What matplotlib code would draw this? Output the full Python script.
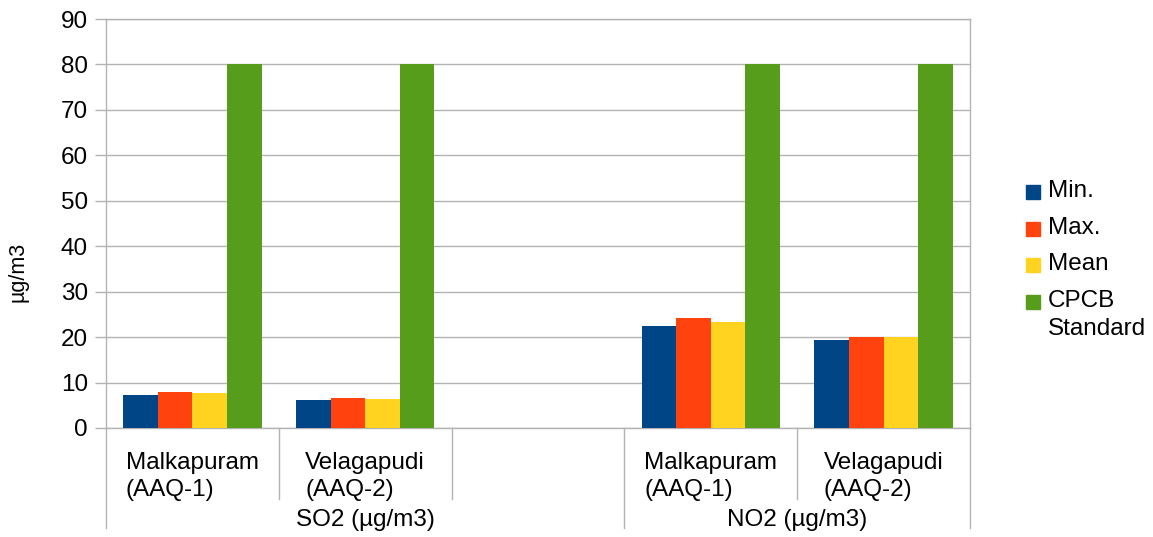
import numpy as np
import matplotlib
matplotlib.use('Agg')
import matplotlib.pyplot as plt
from matplotlib.patches import Rectangle

plt.rcParams['font.family'] = ['Liberation Sans', 'DejaVu Sans']

# データ
categories = ['Malkapuram\n(AAQ-1)', 'Velagapudi\n(AAQ-2)', '', 'Malkapuram\n(AAQ-1)', 'Velagapudi\n(AAQ-2)']
groups = ['SO2 (µg/m3)', 'NO2 (µg/m3)']
group_span = [(0, 2), (3, 4)]
series = ['Min.', 'Max.', 'Mean', 'CPCB\nStandard']
v_min = [7.2, 6.1, np.nan, 22.5, 19.4]
v_max = [7.9, 6.6, np.nan, 24.2, 20.1]
v_mean = [7.7, 6.35, np.nan, 23.4, 20.0]
v_cpcb = [80, 80, np.nan, 80, 80]
colors = ['#004586', '#ff420e', '#ffd320', '#579d1c']

values = [v_min, v_max, v_mean, v_cpcb]
grid_c = '#b3b3b3'
fs = 17.5

fig = plt.figure(figsize=(11.53, 5.37), dpi=100)
ax = fig.add_axes([106/1153, 1-428/537, (970-106)/1153, (428-19)/537])

x = np.arange(len(categories))
w = 0.2
for i, vals in enumerate(values):
    ax.bar(x + (i - 1.5)*w, vals, w, color=colors[i], zorder=3)

ax.set_xlim(-0.5, len(categories) - 0.5)
ax.set_ylim(0, 90)
ax.set_yticks(range(0, 91, 10))
ax.yaxis.grid(True, color=grid_c, lw=1.0, zorder=0)
for s in ax.spines.values():
    s.set_color(grid_c)
    s.set_linewidth(1.0)
ax.tick_params(axis='y', length=8, color=grid_c, width=1.0, pad=5, labelsize=fs)
ax.tick_params(axis='x', length=0, pad=35, labelsize=fs)
ax.set_xticks(x, categories, linespacing=1.28)
for t in ax.get_xticklabels():
    t.set_multialignment('left')
    t.set_va('center')

# カテゴリ区切り線
tr = ax.get_xaxis_transform()
h = 428 - 19
short_y = -(499 - 428)/h
long_y = -(528 - 428)/h
for xb in np.arange(-0.5, len(categories), 1.0):
    is_long = any(np.isclose(xb, a - 0.5) or np.isclose(xb, b + 0.5) for a, b in group_span)
    ax.plot([xb, xb], [0, long_y if is_long else short_y], transform=tr,
            color=grid_c, lw=1.0, clip_on=False)
for g, (a, b) in zip(groups, group_span):
    ax.text((a - 0.5 + b + 0.5)/2, -(520 - 428)/h, g,
            transform=tr, ha='center', va='center', fontsize=fs)

fig.text(18/1153, 1-272/537, 'µg/m3', rotation=90, ha='center', va='center', fontsize=15.5)

# 凡例
lx, ly0, dy, sq = 1026, 192, 36.7, 14
for i, (name, c) in enumerate(zip(series, colors)):
    yc = ly0 + i*dy
    fig.patches.append(Rectangle((lx/1153, 1-(yc+sq/2)/537), sq/1153, sq/537,
                                 transform=fig.transFigure, color=c))
    fig.text(1048/1153, 1-(yc-12)/537, name, ha='left', va='top', fontsize=fs, linespacing=1.33)

fig.savefig('out.png')
